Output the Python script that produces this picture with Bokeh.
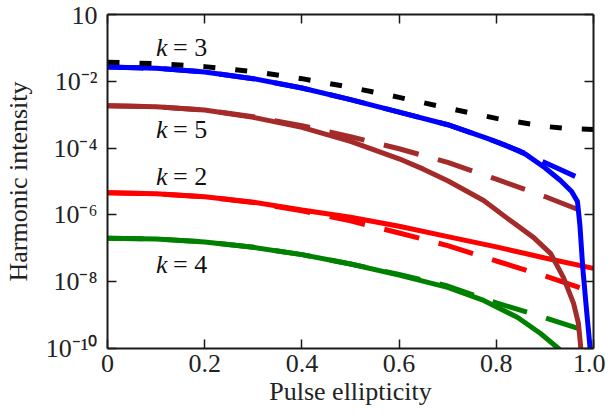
from bokeh.plotting import figure
from bokeh.models import LinearAxis, LogAxis, FixedTicker, Label, CustomJSTickFormatter
from bokeh.embed import file_html
from bokeh.resources import INLINE

# ---- data ----
# k = 3, approximate (black short-dashed)
e_k3a = [0, 0.1, 0.2, 0.3, 0.4, 0.5, 0.6, 0.7, 0.8, 0.9, 0.95, 1.0]
I_k3a = [3.72e-2, 3.39e-2, 2.75e-2, 1.95e-2, 1.20e-2, 6.61e-3, 3.31e-3, 1.58e-3, 7.76e-4,
         4.47e-4, 3.80e-4, 3.63e-4]
# k = 3 (blue)
e_k3 = [0, 0.1, 0.2, 0.3, 0.4, 0.5, 0.6, 0.7, 0.78, 0.82, 0.86, 0.9, 0.932, 0.955, 0.967,
        0.972, 0.978, 0.986, 0.995]
I_k3 = [2.69e-2, 2.45e-2, 1.91e-2, 1.20e-2, 6.31e-3, 2.82e-3, 1.20e-3, 5.01e-4, 2.00e-4,
        1.20e-4, 6.61e-5, 2.57e-5, 1.07e-5, 5.01e-6, 2.51e-6, 5.01e-7, 2.51e-8, 1.26e-9,
        5.01e-11]
e_k3d = [0, 0.1, 0.2, 0.3, 0.4, 0.5, 0.6, 0.7, 0.78, 0.85, 0.918, 0.99, 1.0]
I_k3d = [2.69e-2, 2.45e-2, 1.91e-2, 1.20e-2, 6.31e-3, 2.82e-3, 1.20e-3, 5.01e-4, 2.00e-4,
         7.94e-5, 2.82e-5, 9.33e-6, 8.13e-6]
# k = 5 (brown)
e_k5 = [0, 0.1, 0.2, 0.3, 0.4, 0.5, 0.6, 0.65, 0.7, 0.774, 0.829, 0.877, 0.912, 0.938,
        0.959, 0.969, 0.976]
I_k5 = [1.86e-3, 1.74e-3, 1.38e-3, 8.32e-4, 4.17e-4, 1.58e-4, 4.79e-5, 2.34e-5, 1.05e-5,
        2.69e-6, 6.76e-7, 2.09e-7, 6.92e-8, 1.35e-8, 2.24e-9, 5.62e-10, 5.01e-11]
e_k5d = [0, 0.1, 0.2, 0.3, 0.4, 0.5, 0.6, 0.7, 0.8, 0.9, 1.0]
I_k5d = [1.86e-3, 1.74e-3, 1.38e-3, 8.71e-4, 4.68e-4, 2.19e-4, 9.55e-5, 3.72e-5, 1.17e-5,
         3.55e-6, 9.55e-7]
# k = 2 (red)
e_k2 = [0, 0.1, 0.2, 0.3, 0.4, 0.5, 0.6, 0.7, 0.8, 0.9, 1.0]
I_k2 = [4.57e-6, 4.27e-6, 3.47e-6, 2.40e-6, 1.41e-6, 8.51e-7, 4.57e-7, 2.24e-7, 1.10e-7,
        5.13e-8, 2.51e-8]
e_k2d = [0, 0.1, 0.2, 0.3, 0.4, 0.5, 0.6, 0.7, 0.8, 0.9, 1.0]
I_k2d = [4.57e-6, 4.27e-6, 3.47e-6, 2.34e-6, 1.32e-6, 6.61e-7, 2.88e-7, 1.20e-7, 4.17e-8,
         1.48e-8, 4.79e-9]
# k = 4 (green)
e_k4 = [0, 0.1, 0.2, 0.3, 0.4, 0.5, 0.6, 0.7, 0.774, 0.844, 0.891, 0.928, 0.94]
I_k4 = [2.00e-7, 1.91e-7, 1.55e-7, 1.07e-7, 6.46e-8, 3.39e-8, 1.58e-8, 6.76e-9, 2.75e-9,
        8.51e-10, 2.82e-10, 1.00e-10, 6.31e-11]
e_k4d = [0, 0.1, 0.2, 0.3, 0.4, 0.5, 0.6, 0.7, 0.8, 0.9, 1.0]
I_k4d = [2.00e-7, 1.91e-7, 1.55e-7, 1.07e-7, 6.46e-8, 3.39e-8, 1.66e-8, 7.41e-9, 2.34e-9,
         8.32e-10, 2.82e-10]

x_ticks = [0, 0.2, 0.4, 0.6, 0.8, 1.0]
x_tick_labels = ["0", "0.2", "0.4", "0.6", "0.8", "1.0"]
y_ticks = [1e-10, 1e-8, 1e-6, 1e-4, 1e-2, 1.0]
y_tick_labels = ["10\u207b\u00b9\u2070", "10\u207b\u2078", "10\u207b\u2076", "10\u207b\u2074",
                 "10\u207b\u00b2", "10"]

label_k = ["3", "5", "2", "4"]
label_x = [0.1, 0.1, 0.1, 0.1]
label_y = [1.03e-1, 3.65e-4, 1.41e-5, 3.3e-8]

FONT = "Liberation Serif"
AX = "#1a1a1a"
TXT = "#222222"

p = figure(width=605, height=416, x_range=(0, 1), y_range=(1e-10, 1), y_axis_type="log",
           output_backend="svg", toolbar_location=None,
           min_border_left=107, min_border_right=12, min_border_top=14, min_border_bottom=68)
p.grid.visible = False
p.outline_line_color = None
p.background_fill_color = "white"
p.border_fill_color = "white"


def style(ax, show_labels=True):
    ax.axis_line_color = AX
    ax.axis_line_width = 2
    ax.major_tick_line_color = AX
    ax.major_tick_line_width = 1.5
    ax.major_tick_in = 9
    ax.major_tick_out = 0
    ax.minor_tick_line_color = None
    ax.major_label_text_font = FONT
    ax.major_label_text_color = TXT
    if show_labels:
        ax.major_label_text_font_size = "26px"
    else:
        ax.formatter = CustomJSTickFormatter(code="return ''")
        ax.major_label_text_font_size = "1px"
        ax.major_label_standoff = 0


xa = p.xaxis[0]
xa.ticker = FixedTicker(ticks=x_ticks)
xa.major_label_overrides = {v: s for v, s in zip(x_ticks, x_tick_labels)}
style(xa)
xa.major_label_standoff = 6
xa.axis_label = "Pulse ellipticity"
xa.axis_label_text_font = FONT
xa.axis_label_text_font_size = "26px"
xa.axis_label_text_font_style = "normal"
xa.axis_label_text_color = TXT
xa.axis_label_standoff = 2

ya = p.yaxis[0]
ya.ticker = FixedTicker(ticks=y_ticks)
ya.major_label_overrides = {v: s for v, s in zip(y_ticks, y_tick_labels)}
style(ya)
ya.major_label_standoff = 10
ya.axis_label = "Harmonic intensity"
ya.axis_label_text_font = FONT
ya.axis_label_text_font_size = "26px"
ya.axis_label_text_font_style = "normal"
ya.axis_label_text_color = TXT
ya.axis_label_standoff = 10

top = LinearAxis(ticker=FixedTicker(ticks=x_ticks))
style(top, False)
p.add_layout(top, "above")
right = LogAxis(ticker=FixedTicker(ticks=y_ticks))
style(right, False)
p.add_layout(right, "right")

LW = 5
p.line(e_k4, I_k4, line_color="green", line_width=LW)
p.line(e_k4d, I_k4d, line_color="green", line_width=LW, line_dash="36 20")
p.line(e_k2, I_k2, line_color="red", line_width=LW)
p.line(e_k2d, I_k2d, line_color="red", line_width=LW, line_dash="36 20")
p.line(e_k5, I_k5, line_color="brown", line_width=LW)
p.line(e_k5d, I_k5d, line_color="brown", line_width=LW, line_dash="36 20")
p.line(e_k3, I_k3, line_color="blue", line_width=LW)
p.line(e_k3d, I_k3d, line_color="blue", line_width=LW, line_dash="36 20")
p.line(e_k3a, I_k3a, line_color="black", line_width=LW, line_dash="12 20")

for k, lx, ly in zip(label_k, label_x, label_y):
    p.add_layout(Label(x=lx, y=ly, text="k", text_font=FONT, text_font_style="italic",
                       text_font_size="26px", text_baseline="alphabetic", text_color="#111111"))
    p.add_layout(Label(x=lx, y=ly, x_offset=17, text="= " + k, text_font=FONT,
                       text_font_size="26px", text_baseline="alphabetic", text_color="#111111"))

open("out.html", "w").write(file_html(p, INLINE))
